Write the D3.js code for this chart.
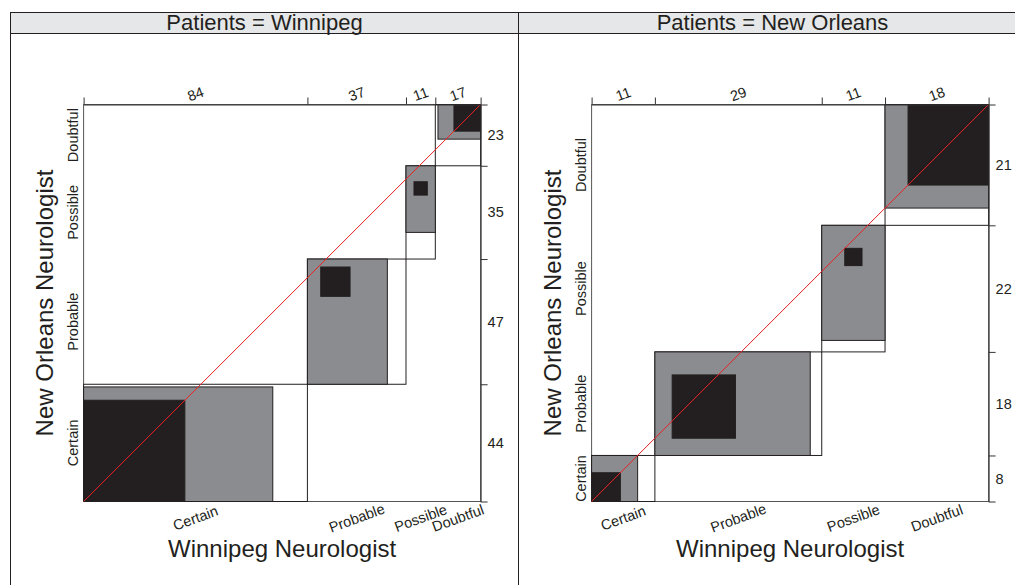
<!DOCTYPE html>
<html>
<head>
<meta charset="utf-8">
<script src="https://cdn.jsdelivr.net/npm/d3@7"></script>
<style>
  html, body { margin: 0; padding: 0; background: #fff; }
  svg { display: block; font-family: "Liberation Sans", Arial, sans-serif; }
</style>
</head>
<body>
<svg id="chart" width="1015" height="585"></svg>
<script>
// ---- data ----
const categories = ["Certain", "Probable", "Possible", "Doubtful"];
const panelNames = ["Winnipeg", "New Orleans"];
// rows: New Orleans Neurologist, columns: Winnipeg Neurologist
const winnipegCounts = [
  [38, 5, 0, 1],
  [33, 11, 3, 0],
  [10, 14, 5, 6],
  [3, 7, 3, 10]
];
const newOrleansCounts = [
  [5, 3, 0, 0],
  [3, 11, 4, 0],
  [2, 13, 3, 4],
  [1, 2, 4, 14]
];
const xTitle = "Winnipeg Neurologist";
const yTitle = "New Orleans Neurologist";
const stripPrefix = "Patients = ";
const partialBand = 1; // partial agreement: one step off the diagonal

// ---- layout ----
const svg = d3.select("#chart");
const panelW = 508, panelTop = 12.5, stripBottom = 33.5;
const panelLefts = [10, 518];
const plotOffset = 73.6, plotSize = 397, plotTop = 104.5;
const ink = "#231f20", grayFill = "#8b8c8f", blackFill = "#231f20", red = "#ec2227";

const tables = [winnipegCounts, newOrleansCounts];

tables.forEach((tab, p) => {
  const pl = panelLefts[p];
  const g = svg.append("g");
  // panel border
  g.append("rect").attr("x", pl + 0.5).attr("y", panelTop).attr("width", panelW)
    .attr("height", 700).attr("fill", "#fff").attr("stroke", ink).attr("stroke-width", 1);
  // strip
  g.append("rect").attr("x", pl + 0.5).attr("y", panelTop).attr("width", panelW)
    .attr("height", stripBottom - panelTop).attr("fill", "#e6e7e8").attr("stroke", ink).attr("stroke-width", 1);
  g.append("text").attr("x", pl + panelW / 2 + 0.5).attr("y", 30)
    .attr("text-anchor", "middle").attr("font-size", 22).attr("fill", ink)
    .text(stripPrefix + panelNames[p]);

  const k = categories.length;
  const rowTot = tab.map(r => d3.sum(r));
  const colTot = categories.map((_, j) => d3.sum(tab, r => r[j]));
  const n = d3.sum(rowTot);
  const cumCols = [0, ...d3.cumsum(colTot)];
  const cumRows = [0, ...d3.cumsum(rowTot)];

  const x0 = pl + plotOffset;
  const x = d3.scaleLinear().domain([0, n]).range([x0, x0 + plotSize]);
  const y = d3.scaleLinear().domain([0, n]).range([plotTop + plotSize, plotTop]);

  const drawRect = (ax, ay, w, h, fill, stroke) => {
    g.append("rect")
      .attr("x", x(ax)).attr("y", y(ay + h))
      .attr("width", x(ax + w) - x(ax)).attr("height", y(ay) - y(ay + h))
      .attr("fill", fill).attr("stroke", stroke).attr("stroke-width", 1);
  };

  // frame (left/bottom)
  g.append("rect").attr("x", x(0)).attr("y", y(n)).attr("width", x(n) - x(0))
    .attr("height", y(0) - y(n)).attr("fill", "none").attr("stroke", "#555").attr("stroke-width", 1);

  for (let i = 0; i < k; i++) {
    // diagonal rectangle
    drawRect(cumCols[i], cumRows[i], colTot[i], rowTot[i], "#fff", ink);
    // partial then exact agreement
    [partialBand, 0].forEach(b => {
      const lb = Math.max(0, i - b), ub = Math.min(k - 1, i + b);
      let xOff = 0, w = 0, yOff = 0, h = 0;
      for (let r = 0; r < k; r++) {
        if (r < lb) xOff += tab[r][i];
        else if (r <= ub) w += tab[r][i];
      }
      for (let c = 0; c < k; c++) {
        if (c < lb) yOff += tab[i][c];
        else if (c <= ub) h += tab[i][c];
      }
      drawRect(cumCols[i] + xOff, cumRows[i] + yOff, w, h, b === 0 ? blackFill : grayFill, ink);
    });
  }

  // diagonal reference line
  g.append("line").attr("x1", x(0)).attr("y1", y(0)).attr("x2", x(n)).attr("y2", y(n))
    .attr("stroke", red).attr("stroke-width", 1);

  // top axis (column totals) and right axis (row totals)
  const topAxis = d3.axisTop(x).tickValues(cumCols).tickSize(7).tickSizeOuter(0).tickFormat("");
  const rightAxis = d3.axisRight(y).tickValues(cumRows).tickSize(7).tickSizeOuter(0).tickFormat("");
  const ta = g.append("g").attr("transform", `translate(0,${y(n)})`).call(topAxis);
  const ra = g.append("g").attr("transform", `translate(${x(n)},0)`).call(rightAxis);
  [ta, ra].forEach(a => {
    a.selectAll("path, line").attr("stroke", "#333").attr("stroke-width", 1);
  });

  const small = 14.5;
  for (let i = 0; i < k; i++) {
    const cx = x(cumCols[i] + colTot[i] / 2);
    const cy = y(cumRows[i] + rowTot[i] / 2);
    // column totals on top
    g.append("text").attr("transform", `translate(${cx},${94}) rotate(-20)`)
      .attr("text-anchor", "middle").attr("dy", "0.35em").attr("font-size", small).attr("fill", ink)
      .text(colTot[i]);
    // row totals on right
    g.append("text").attr("x", x(n) + 7).attr("y", cy).attr("dy", "0.35em")
      .attr("font-size", small).attr("fill", ink).text(rowTot[i]);
    // x category labels
    g.append("text").attr("transform", `translate(${cx},${518}) rotate(-20)`)
      .attr("text-anchor", "middle").attr("dy", "0.35em").attr("font-size", small).attr("fill", ink)
      .text(categories[i]);
    // y category labels
    g.append("text").attr("transform", `translate(${pl + 67.5},${cy}) rotate(-90)`)
      .attr("text-anchor", "middle").attr("font-size", small).attr("fill", ink)
      .text(categories[i]);
  }

  // axis titles
  g.append("text").attr("x", (x(0) + x(n)) / 2).attr("y", 557)
    .attr("text-anchor", "middle").attr("font-size", 24).attr("fill", ink).text(xTitle);
  g.append("text").attr("transform", `translate(${pl + 42.5},${(y(0) + y(n)) / 2}) rotate(-90)`)
    .attr("text-anchor", "middle").attr("font-size", 24).attr("fill", ink).text(yTitle);
});
</script>
</body>
</html>
